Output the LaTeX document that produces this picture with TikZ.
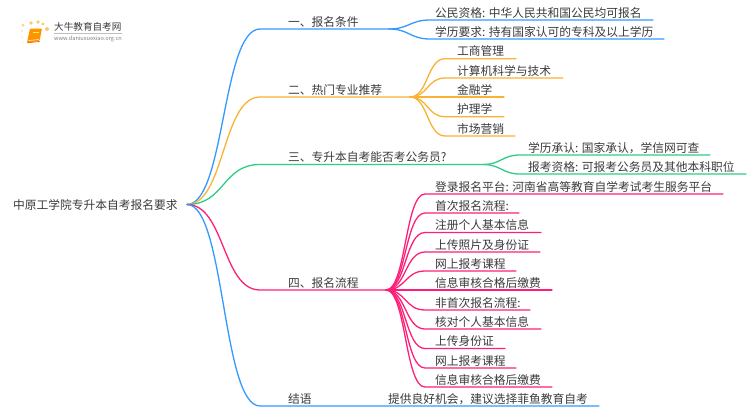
\documentclass[tikz,border=0pt]{standalone}
\usepackage{fontspec}
\setmainfont{Noto Sans CJK SC}
\usetikzlibrary{calc}
\definecolor{bluebr}{HTML}{3399FF}
\definecolor{orangebr}{HTML}{F9B233}
\definecolor{greenbr}{HTML}{2ECC85}
\definecolor{pinkbr}{HTML}{FF1F78}
\definecolor{inktxt}{HTML}{3A3A3A}
\tikzset{
  lab/.style={anchor=west,inner sep=0pt,yshift=-.7pt,font=\fontsize{11.75}{12}\selectfont,text=inktxt},
  br/.style={line width=1.3pt,line cap=round},
}
\newcommand*{\curveto}[4]{\draw [br,#1] (#2) .. controls ($(#2)+(#4,0)$) and ($(#3)+(-#4,0)$) .. (#3)}

\begin{document}
\begin{tikzpicture}[x=1pt,y=-1pt]
\useasboundingbox (0,0) rectangle (750,410);

% Root
\coordinate (R) at (187,204.5);
\node [lab] (root) at (13,204.5) {中原工学院专升本自考报名要求};

% Main branches
\coordinate (A0) at (260,29);
\coordinate (A1) at (389,29);
\coordinate (B0) at (260,97);
\coordinate (B1) at (410,97);
\coordinate (C0) at (260,164.5);
\coordinate (C1) at (483,164.5);
\coordinate (D0) at (260,290);
\coordinate (D1) at (386,290);
\coordinate (E0) at (260,406);
\coordinate (E1) at (599,406);

\curveto{bluebr}{R}{A0}{38} -- (A1);
\curveto{orangebr}{R}{B0}{38} -- (B1);
\curveto{greenbr}{R}{C0}{38} -- (C1);
\curveto{pinkbr}{R}{D0}{38} -- (D1);
\curveto{bluebr}{R}{E0}{38} -- (E1);

\node [lab] (a) at (288,21)    {一、报名条件};
\node [lab] (b) at (288,89)    {二、热门专业推荐};
\node [lab] (c) at (288,156.5) {三、专升本自考能否考公务员?};
\node [lab] (d) at (288,282)   {四、报名流程};
\node [lab] (e) at (288,398)   {结语};
\node [lab] (e1) at (388,398)  {提供良好机会，建议选择菲鱼教育自考};

% First branch
\foreach \n/\y/\xe/\txt in {
  1/20/653/{公民资格: 中华人民共和国公民均可报名},
  2/39/664/{学历要求: 持有国家认可的专科及以上学历}} {
  \coordinate (A\n s) at (430,\y);
  \coordinate (A\n e) at (\xe,\y);
  \curveto{bluebr}{A1}{A\n s}{20} -- (A\n e);
  \node [lab] (a\n) at (435,\y-8) {\txt};
}

% Second branch
\foreach \n/\y/\xe/\txt in {
  1/58.7/516/{工商管理},
  2/78/563/{计算机科学与技术},
  3/97/504/{金融学},
  4/116.7/504/{护理学},
  5/136/515/{市场营销}} {
  \coordinate (B\n s) at (445,\y);
  \coordinate (B\n e) at (\xe,\y);
  \curveto{orangebr}{B1}{B\n s}{18} -- (B\n e);
  \node [lab] (b\n) at (457,\y-8) {\txt};
}

% Third branch
\foreach \n/\y/\xe/\txt in {
  1/155/710/{学历承认: 国家承认，学信网可查},
  2/174/746/{报考资格: 可报考公务员及其他本科职位}} {
  \coordinate (C\n s) at (520,\y);
  \coordinate (C\n e) at (\xe,\y);
  \curveto{greenbr}{C1}{C\n s}{18} -- (C\n e);
  \node [lab] (c\n) at (528,\y-8) {\txt};
}

% Fourth branch
\foreach \n/\y/\xe/\txt in {
  1/194/723/{登录报名平台: 河南省高等教育自学考试考生服务平台},
  2/213/519/{首次报名流程:},
  3/232.5/541/{注册个人基本信息},
  4/252/540/{上传照片及身份证},
  5/271/516/{网上报考课程},
  6/290/552/{信息审核合格后缴费},
  7/310/530/{非首次报名流程:},
  8/329/541/{核对个人基本信息},
  9/348.5/505/{上传身份证},
  10/368/516/{网上报考课程},
  11/387/552/{信息审核合格后缴费}} {
  \coordinate (D\n s) at (425,\y);
  \coordinate (D\n e) at (\xe,\y);
  \curveto{pinkbr}{D1}{D\n s}{20} -- (D\n e);
  \node [lab] (d\n) at (435,\y-8) {\txt};
}

% Logo
\foreach \x/\y/\r/\o in {23/25/1.5/.6, 31/23/1.8/.7, 38/22/1.9/.7, 43/24/1.7/.7, 47/29/2/.7,
  22/31/1.2/.35, 22/37/1.1/.25, 23/42/1/.15}
  \fill [orangebr,opacity=\o] (\x,\y) circle (\r);
\fill [orange!85!yellow,rounded corners=1pt] (30,28.5) -- (42,28.5) -- (39.5,41) -- (27,42.5) -- cycle;
\draw [white,line width=.5pt] (28.5,40.5) -- (39,39.5);
\draw [orange!80!red,line width=.8pt,line cap=round] (27,42.8) -- (39.5,41.5);
\draw [yellow!70!white,line width=.6pt] (33,32) -- (39,32);
\node [anchor=west,inner sep=0pt,font=\fontsize{9.6}{10}\selectfont,text=inktxt] (logo) at (54,27) {大牛教育自考网};
\draw [gray!50,line width=.5pt] (54,33.2) -- (122,33.2);
\node [anchor=west,inner sep=0pt,font=\fontsize{5.6}{6}\selectfont,text=gray] (url) at (54,38.7) {www.daniuxuexiao.org.cn};
\end{tikzpicture}
\end{document}
